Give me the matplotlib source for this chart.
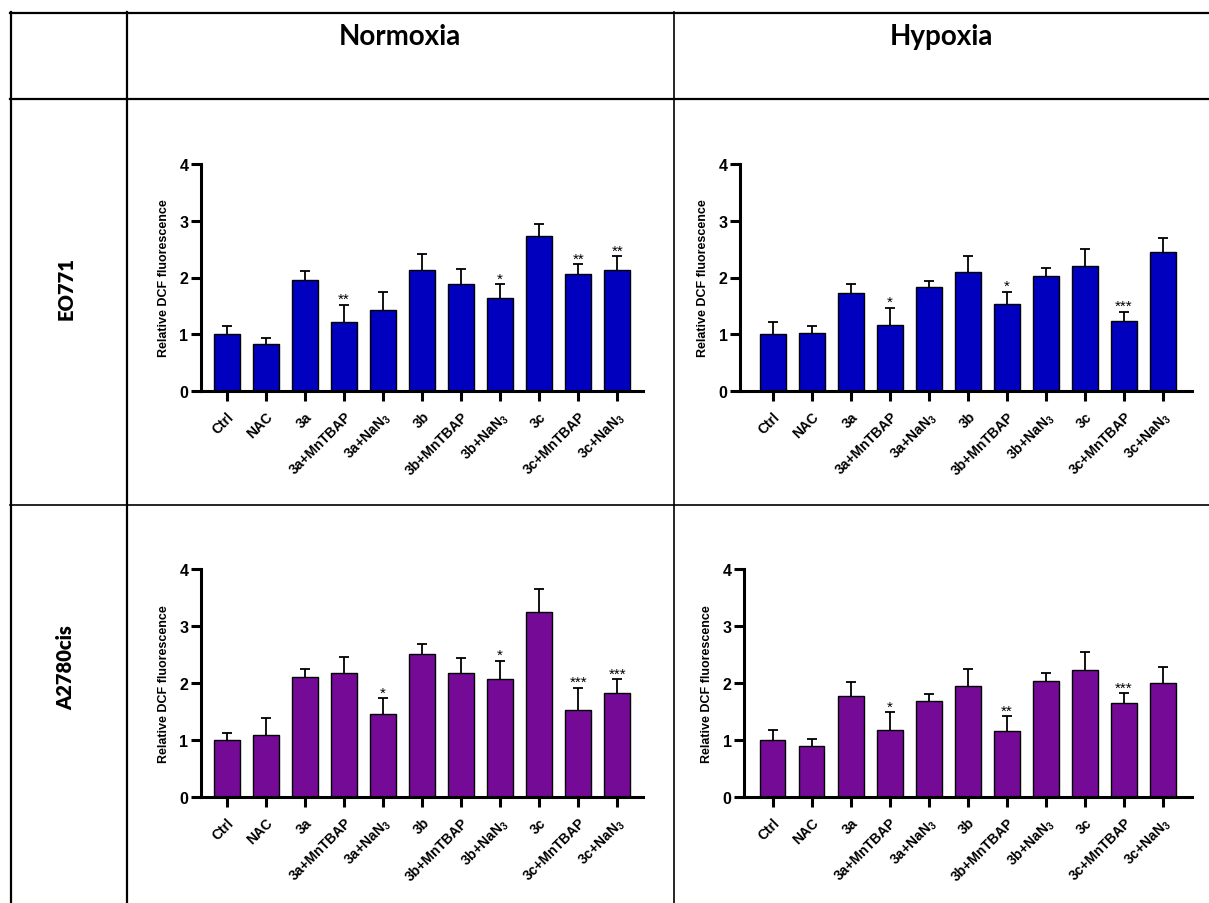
import matplotlib
matplotlib.use('Agg')
import matplotlib.pyplot as plt
from matplotlib.lines import Line2D
import numpy as np

plt.rcParams['font.family'] = ['Liberation Sans', 'DejaVu Sans']
plt.rcParams['mathtext.fontset'] = 'custom'
plt.rcParams['mathtext.rm'] = 'Liberation Sans'
plt.rcParams['mathtext.bf'] = 'Liberation Sans:bold'

# данные
groups = ['Ctrl', 'NAC', '3a', '3a+MnTBAP', r'3a+NaN$_\mathregular{3}$',
          '3b', '3b+MnTBAP', r'3b+NaN$_\mathregular{3}$',
          '3c', '3c+MnTBAP', r'3c+NaN$_\mathregular{3}$']

eo_norm = [1.00, 0.82, 1.95, 1.21, 1.43, 2.13, 1.88, 1.64, 2.74, 2.07, 2.13]
eo_norm_err = [0.15, 0.11, 0.17, 0.31, 0.31, 0.28, 0.27, 0.24, 0.20, 0.16, 0.25]
eo_norm_sig = ['', '', '', '**', '', '', '', '*', '', '**', '**']

eo_hyp = [1.00, 1.03, 1.72, 1.17, 1.83, 2.10, 1.53, 2.02, 2.20, 1.24, 2.45]
eo_hyp_err = [0.22, 0.11, 0.17, 0.30, 0.11, 0.28, 0.22, 0.14, 0.30, 0.16, 0.24]
eo_hyp_sig = ['', '', '', '*', '', '', '*', '', '', '***', '']

a2_norm = [1.00, 1.09, 2.10, 2.18, 1.46, 2.51, 2.17, 2.07, 3.24, 1.53, 1.82]
a2_norm_err = [0.13, 0.30, 0.14, 0.27, 0.27, 0.18, 0.27, 0.32, 0.41, 0.39, 0.25]
a2_norm_sig = ['', '', '', '', '*', '', '', '*', '', '***', '***']

a2_hyp = [1.00, 0.90, 1.77, 1.17, 1.69, 1.94, 1.16, 2.03, 2.23, 1.65, 2.00]
a2_hyp_err = [0.18, 0.11, 0.25, 0.32, 0.12, 0.30, 0.26, 0.14, 0.31, 0.17, 0.28]
a2_hyp_sig = ['', '', '', '*', '', '', '**', '', '', '***', '']

blue = '#0000BE'
purple = '#740A96'

W, H = 1209, 904
fig = plt.figure(figsize=(W / 100, H / 100), dpi=100)


def px_ax(left, top, right, bottom):
    return fig.add_axes([left / W, 1 - bottom / H, (right - left) / W, (bottom - top) / H])


def draw_panel(ax, vals, err, sig, color, xlim):
    x = np.arange(len(groups))
    vals = np.array(vals)
    err = np.array(err)
    ax.bar(x, vals, width=0.66, color=color, edgecolor='black', linewidth=1.0, zorder=2)
    ax.errorbar(x, vals, yerr=[np.zeros_like(err), err], fmt='none',
                ecolor='black', elinewidth=1.3, capsize=0, zorder=1)
    ax.plot(x, vals + err, '_', color='black', markersize=7, mew=1.3, zorder=1)
    for xi, v, e, s in zip(x, vals, err, sig):
        if s:
            ax.annotate(s, (xi, v + e), xytext=(0, -1), textcoords='offset points',
                        ha='center', va='bottom', fontsize=11)
    ax.set_xlim(*xlim)
    ax.set_ylim(0, 4)
    ax.set_yticks([0, 1, 2, 3, 4])
    ax.set_xticks(x)
    ax.set_xticklabels(groups, rotation=45, ha='right', rotation_mode='anchor',
                       fontsize=10, fontweight='bold')
    for lbl in ax.get_yticklabels():
        lbl.set_fontweight('bold')
        lbl.set_fontsize(11.5)
    ax.set_ylabel('Relative DCF fluorescence', fontsize=9, fontweight='bold', labelpad=7)
    for side in ['top', 'right']:
        ax.spines[side].set_visible(False)
    for side in ['left', 'bottom']:
        ax.spines[side].set_linewidth(2.2)
    ax.tick_params(axis='both', width=2.2, length=7, color='black')
    ax.tick_params(axis='y', pad=2)
    ax.tick_params(axis='x', pad=6)
    ax.set_facecolor('none')


ax1 = px_ax(201, 165, 643, 392)
draw_panel(ax1, eo_norm, eo_norm_err, eo_norm_sig, blue, (-0.66, 10.66))
ax2 = px_ax(740, 165, 1192, 392)
draw_panel(ax2, eo_hyp, eo_hyp_err, eo_hyp_sig, blue, (-0.84, 10.74))
ax3 = px_ax(201, 570, 643, 798)
draw_panel(ax3, a2_norm, a2_norm_err, a2_norm_sig, purple, (-0.66, 10.66))
ax4 = px_ax(744, 570, 1192, 798)
draw_panel(ax4, a2_hyp, a2_hyp_err, a2_hyp_sig, purple, (-0.73, 10.74))


# линии таблицы
def hline(y, x0, x1, lw):
    fig.add_artist(Line2D([x0 / W, x1 / W], [1 - y / H, 1 - y / H], color='black', lw=lw))


def vline(x, y0, y1, lw):
    fig.add_artist(Line2D([x / W, x / W], [1 - y0 / H, 1 - y1 / H], color='black', lw=lw))


hline(14, 10, W, 1.6)
hline(99.5, 10, W, 1.6)
hline(505.5, 10, W, 1.2)
vline(11, 13, H, 1.6)
vline(127, 13, H, 1.6)
vline(674, 13, H, 1.2)

fig.text(400 / W, 1 - 37 / H, 'Normoxia', ha='center', va='center',
         fontsize=20, fontweight='bold', family=['Lato', 'DejaVu Sans'])
fig.text(941 / W, 1 - 37 / H, 'Hypoxia', ha='center', va='center',
         fontsize=20, fontweight='bold', family=['Lato', 'DejaVu Sans'])
fig.text(66 / W, 1 - 288 / H, 'EO771', ha='center', va='center', rotation=90,
         fontsize=14.5, fontweight='heavy', family=['Lato', 'DejaVu Sans'])
fig.text(66 / W, 1 - 668 / H, 'A2780cis', ha='center', va='center', rotation=90,
         fontsize=14.5, fontweight='heavy', family=['Lato', 'DejaVu Sans'])

fig.savefig('out.png', dpi=100)
